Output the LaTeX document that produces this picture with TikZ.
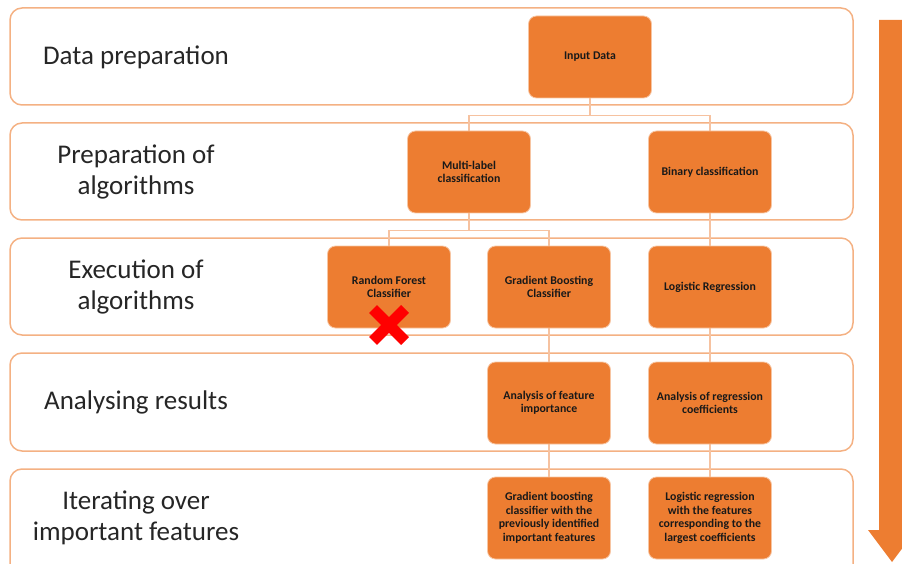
\documentclass[tikz,border=0pt]{standalone}
\usepackage{fontspec}
\setmainfont{Carlito}
\usetikzlibrary{backgrounds}
\definecolor{boxorange}{HTML}{ED7D31}
\definecolor{bandline}{HTML}{F4B183}
\definecolor{linkline}{HTML}{F6C2A0}
\definecolor{crossred}{HTML}{FF0000}
\tikzset{
  stage/.style={draw=bandline, line width=1.5pt, rounded corners=12pt},
  stagelabel/.style={align=center, font=\fontsize{27}{31}\selectfont, text=black!85},
  algobox/.style={fill=boxorange, draw=white!55!boxorange, line width=0.8pt, rounded corners=8pt,
    minimum width=123pt, minimum height=82pt, inner sep=0pt, align=center,
    font=\fontsize{11.8}{13.5}\selectfont\bfseries, text=black!90},
  link/.style={draw=linkline, line width=1.3pt},
  xmark/.style={draw=crossred, line width=11pt},
}
\begin{document}
\begin{tikzpicture}[x=1pt, y=-1pt]
    \useasboundingbox (0,0) rectangle (902,564);
    \clip (0,0) rectangle (902,564);
    % stage labels
    \node[stagelabel] (lprep) at (136,57) {Data preparation};
    \node[stagelabel] (lalgo) at (136,172) {Preparation of\\algorithms};
    \node[stagelabel] (lexec) at (136,287) {Execution of\\algorithms};
    \node[stagelabel] (lres) at (136,402) {Analysing results};
    \node[stagelabel] (liter) at (136,518) {Iterating over\\important features};
    % boxes
    \node[algobox] (input) at (590,57) {Input Data};
    \node[algobox] (multi) at (469,172) {Multi-label\\classification};
    \node[algobox] (binary) at (710,172) {Binary classification};
    \node[algobox] (rf) at (389,287) {Random Forest\\Classifier};
    \node[algobox] (gb) at (549,287) {Gradient Boosting\\Classifier};
    \node[algobox] (logreg) at (710,287) {Logistic Regression};
    \node[algobox] (featimp) at (549,403) {Analysis of feature\\importance};
    \node[algobox] (coef) at (710,403) {Analysis of regression\\coefficients};
    \node[algobox] (gbiter) at (549,518) {Gradient boosting\\classifier with the\\previously identified\\important features};
    \node[algobox] (lriter) at (710,518) {Logistic regression\\with the features\\corresponding to the\\largest coefficients};
    \begin{scope}[on background layer]
        % stage bands
        \draw[stage] (10,8) rectangle (853,105);
        \draw[stage] (10,123) rectangle (853,220);
        \draw[stage] (10,238) rectangle (853,335);
        \draw[stage] (10,353) rectangle (853,451);
        \draw[stage] (10,469) rectangle (853,590);
        % connectors
        \draw[link] (input.south) -- ++(0,17) -| (multi.north);
        \draw[link] (input.south) -- ++(0,17) -| (binary.north);
        \draw[link] (multi.south) -- ++(0,17) -| (rf.north);
        \draw[link] (multi.south) -- ++(0,17) -| (gb.north);
        \draw[link] (binary) -- (logreg);
        \draw[link] (gb) -- (featimp);
        \draw[link] (featimp) -- (gbiter);
        \draw[link] (logreg) -- (coef);
        \draw[link] (coef) -- (lriter);
    \end{scope}
    % red cross on the random forest
    \coordinate (rfcross) at (389,325);
    \draw[xmark, shift={(rfcross)}] (-16,-16) -- (16,16) (16,-16) -- (-16,16);
    % process arrow
    \fill[boxorange] (879,20) -- (905,20) -- (905,530) -- (916,530) -- (892,562) -- (868,530) -- (879,530) -- cycle;
\end{tikzpicture}
\end{document}
